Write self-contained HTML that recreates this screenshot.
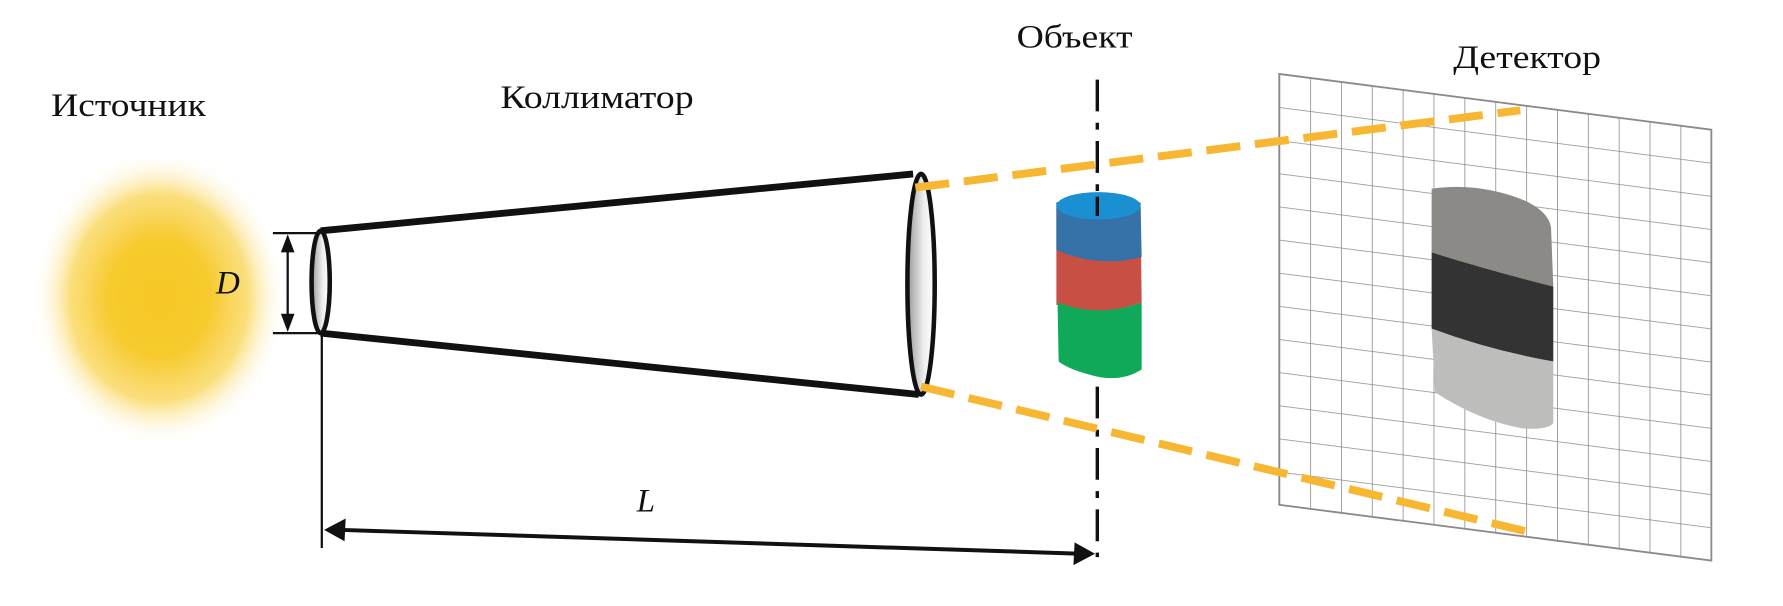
<!DOCTYPE html>
<html><head><meta charset="utf-8"><style>html,body{margin:0;padding:0;background:#fff}svg{display:block}</style></head>
<body>
<svg width="1783" height="606" viewBox="0 0 1568 533" preserveAspectRatio="none" xmlns="http://www.w3.org/2000/svg">
<defs>
<radialGradient id="sun" cx="0.5" cy="0.5" r="0.5">
<stop offset="0" stop-color="#f7c825"/><stop offset="0.4" stop-color="#f7ca2e"/><stop offset="0.7" stop-color="#fad966" stop-opacity="0.85"/><stop offset="1" stop-color="#fff" stop-opacity="0"/>
</radialGradient>
<linearGradient id="lens" x1="0" x2="1"><stop offset="0" stop-color="#999"/><stop offset="0.6" stop-color="#eee"/><stop offset="1" stop-color="#fff"/></linearGradient>
<pattern id="grid" patternUnits="userSpaceOnUse" x="1125" y="65" width="27.14" height="29.15">
<path d="M0 0 V29.15 M0 0 H27.14" stroke="#8a8a8a" stroke-width="1.4" fill="none"/>
</pattern>
</defs>
<rect width="1568" height="533" fill="#fff"/>
<ellipse cx="140" cy="262" rx="112" ry="130" fill="url(#sun)"/>
<g font-family="Liberation Serif, serif" font-size="29" fill="#111">
<text x="45" y="102" textLength="136" lengthAdjust="spacingAndGlyphs">Источник</text>
<text x="440" y="95" textLength="170" lengthAdjust="spacingAndGlyphs">Коллиматор</text>
<text x="894" y="42" textLength="102" lengthAdjust="spacingAndGlyphs">Объект</text>
<text x="1278" y="60" textLength="130" lengthAdjust="spacingAndGlyphs">Детектор</text>
<text x="190" y="258" font-style="italic">D</text>
<text x="560" y="450" font-style="italic">L</text>
</g>
<g transform="matrix(1,0.129,0,1,0,-145.1)">
<rect x="1125" y="65" width="380" height="379" fill="url(#grid)" stroke="#8a8a8a" stroke-width="1.6"/>
</g>
<path d="M1259 166 Q1300 160 1340 176 Q1362 186 1364 200 L1366 252 Q1310 238 1259 222 Z" fill="#8c8a87"/>
<path d="M1259 222 Q1310 238 1366 252 L1366 318 Q1310 308 1259 289 Z" fill="#333"/>
<path d="M1259 289 Q1310 308 1366 318 L1366 372 Q1362 378 1340 377 Q1300 370 1262 345 Z" fill="#bdbdbc"/>
<path d="M282 203 L803 153 M282 293 L808 347" stroke="#111" stroke-width="6" fill="none"/>
<ellipse cx="282" cy="248" rx="8" ry="45" fill="url(#lens)" stroke="#111" stroke-width="4"/>
<ellipse cx="810" cy="250" rx="12" ry="97" fill="url(#lens)" stroke="#111" stroke-width="4"/>
<path d="M240 205 H282 M240 293 H282 M253 215 V283" stroke="#111" stroke-width="2" fill="none"/>
<path d="M253 206 L247 222 H259 Z M253 292 L247 276 H259 Z" fill="#111"/>
<path d="M283 293 V482" stroke="#111" stroke-width="2"/>
<path d="M298 466 L950 487" stroke="#111" stroke-width="3.5"/>
<path d="M285 466 L304 456 L303 476 Z M963 487 L944 497 L945 477 Z" fill="#111"/>
<path d="M965 70 V490" stroke="#111" stroke-width="3" stroke-dasharray="28 10 6 10"/>
<path d="M805 165 L1337 97 M810 340 L1345 468" stroke="#f7b733" stroke-width="7" stroke-dasharray="30 13" fill="none"/>
<path d="M929 178 L929 268 Q966 280 1004 266 L1003 178 Z" fill="#c84f44"/>
<path d="M929 178 L929 220 Q966 236 1004 226 L1003 178 Z" fill="#3572a8"/>
<path d="M930 266 Q966 280 1004 266 L1004 325 Q985 337 960 330 Q940 325 931 318 Z" fill="#10a95a"/>
<ellipse cx="966" cy="181" rx="37" ry="12" fill="#1a8fd2"/>
<path d="M965 173 V190" stroke="#111" stroke-width="3"/>
</svg>
</body></html>
